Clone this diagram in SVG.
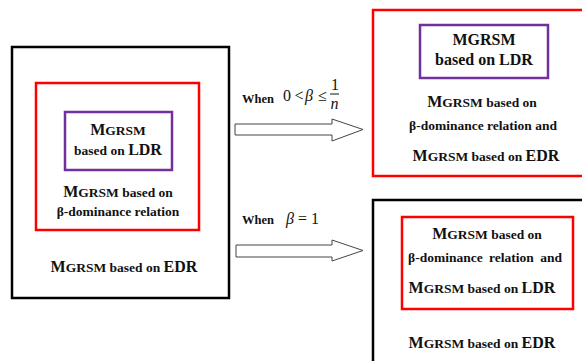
<svg xmlns="http://www.w3.org/2000/svg" width="582" height="361" viewBox="0 0 582 361">
<style>
.t{font-family:"Liberation Serif","Times New Roman",serif;font-weight:bold;font-size:13.5px;fill:#111;text-anchor:middle}
.big{font-size:16px}
.m{font-family:"Liberation Serif","Times New Roman",serif;font-size:16px;fill:#111}
.w{font-family:"Liberation Serif","Times New Roman",serif;font-weight:bold;font-size:12.5px;fill:#111}
.blk{fill:none;stroke:#000;stroke-width:2.5}
.red{fill:none;stroke:#f00;stroke-width:2.5}
.pur{fill:none;stroke:#7030a0;stroke-width:2.5}
.arr{fill:#fff;stroke:#444;stroke-width:1}
</style>
<rect width="582" height="361" fill="#fff"/>
<g id="left-edr">
<rect class="blk" x="12" y="47" width="217" height="251"/>
<text class="t" x="124" y="272"><tspan class="big">M</tspan>GRSM based on <tspan class="big">EDR</tspan></text>
</g>
<g id="left-beta">
<rect class="red" x="36" y="83" width="163" height="147"/>
<text class="t" x="118" y="197"><tspan class="big">M</tspan>GRSM based on</text>
<text class="t" x="118" y="216">β-dominance relation</text>
</g>
<g id="left-ldr">
<rect class="pur" x="65" y="112" width="107" height="58"/>
<text class="t" x="118" y="135"><tspan class="big">M</tspan>GRSM</text>
<text class="t" x="118" y="155">based on <tspan class="big">LDR</tspan></text>
</g>
<g id="connectors">
<polygon class="arr" points="235,124 332,124 332,119 363,129.5 332,141 332,135 235,135"/>
<polygon class="arr" points="236,245 332,245 332,240 363,250.5 332,261 332,257 236,257"/>
<text class="w" x="242" y="103">When</text>
<text class="m" x="283" y="101" font-size="14">0</text>
<text class="m" x="294.5" y="101" font-size="13">&lt;</text>
<text class="m" x="305" y="101" font-style="italic" font-size="17">β</text>
<text class="m" x="318" y="101" font-size="13">≤</text>
<text class="m" x="335" y="90" text-anchor="middle" font-size="15">1</text>
<line x1="330" y1="94" x2="339" y2="94" stroke="#111" stroke-width="1"/>
<text class="m" x="334.5" y="109" text-anchor="middle" font-size="14" font-style="italic">n</text>
<text class="w" x="242" y="224">When</text>
<text class="m" x="286" y="224" font-size="19" font-style="italic">β</text>
<text class="m" x="298" y="224" font-size="19">= 1</text>
</g>
<g id="right-top">
<rect class="red" x="373" y="10" width="215" height="166"/>
<rect class="pur" x="420" y="25" width="128" height="53"/>
<text class="t big" x="484" y="45">MGRSM</text>
<text class="t big" x="484" y="65">based on LDR</text>
<text class="t" x="482" y="107"><tspan class="big">M</tspan>GRSM based on</text>
<text class="t" x="483" y="130">β-dominance relation and</text>
<text class="t" x="486" y="161"><tspan class="big">M</tspan>GRSM based on <tspan class="big">EDR</tspan></text>
</g>
<g id="right-bottom">
<rect class="blk" x="373" y="200" width="215" height="170"/>
<rect class="red" x="402" y="217" width="171" height="92"/>
<text class="t" x="487" y="239"><tspan class="big">M</tspan>GRSM based on</text>
<text class="t" x="485" y="262" word-spacing="3">β-dominance relation and</text>
<text class="t" x="482" y="293"><tspan class="big">M</tspan>GRSM based on <tspan class="big">LDR</tspan></text>
<text class="t" x="482" y="348"><tspan class="big">M</tspan>GRSM based on <tspan class="big">EDR</tspan></text>
</g>
</svg>
